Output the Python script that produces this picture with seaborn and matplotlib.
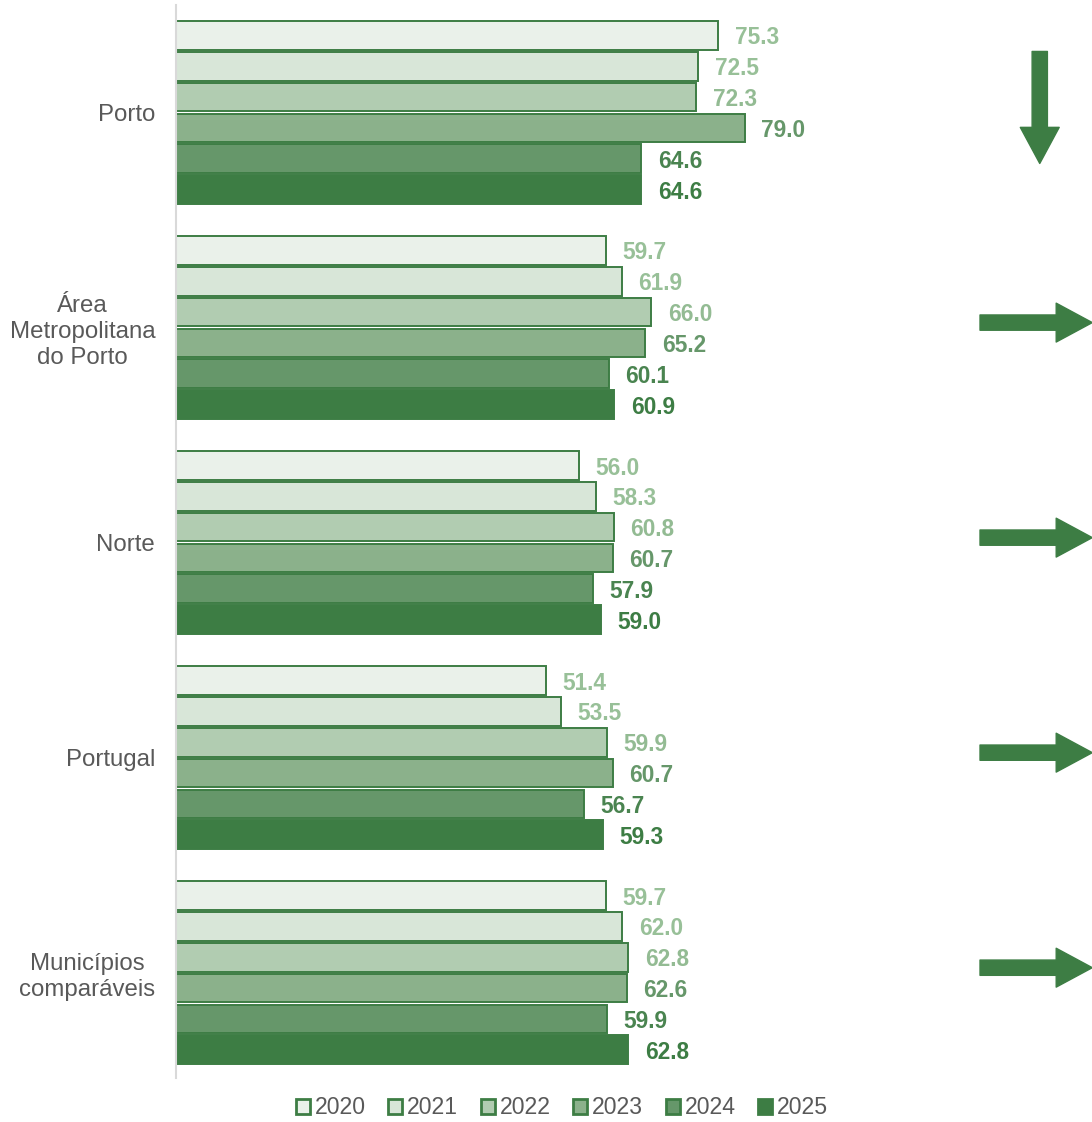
import matplotlib
matplotlib.use("Agg")
import matplotlib.pyplot as plt
from matplotlib.patches import Patch
import seaborn as sns
import pandas as pd

regions = ["Porto", "Área\nMetropolitana\ndo Porto", "Norte", "Portugal", "Municípios\ncomparáveis"]
years = ["2020", "2021", "2022", "2023", "2024", "2025"]
v2020 = [75.3, 59.7, 56.0, 51.4, 59.7]
v2021 = [72.5, 61.9, 58.3, 53.5, 62.0]
v2022 = [72.3, 66.0, 60.8, 59.9, 62.8]
v2023 = [79.0, 65.2, 60.7, 60.7, 62.6]
v2024 = [64.6, 60.1, 57.9, 56.7, 59.9]
v2025 = [64.6, 60.9, 59.0, 59.3, 62.8]
trend = ["down", "flat", "flat", "flat", "flat"]

fills = ["#EAF1EA", "#D8E6D8", "#B1CCB1", "#8BB18B", "#66976A", "#3D7D44"]
label_colors = ["#98C098", "#98C098", "#93BB93", "#66976A", "#4A8450", "#3D7D44"]
edge = "#3D7D44"
grey = "#595959"

values = [v2020, v2021, v2022, v2023, v2024, v2025]
rows = []
for y, vals in zip(years, values):
    for r, v in zip(regions, vals):
        rows.append({"region": r, "year": y, "value": v})
df = pd.DataFrame(rows)

sns.set_theme(style="white")
plt.rcParams["font.family"] = ["Liberation Sans", "DejaVu Sans"]

fig = plt.figure(figsize=(10.92, 11.22), dpi=100)
ax = fig.add_axes([176 / 1092, 1 - 1078 / 1122, 1 - 176 / 1092, (1078 - 5) / 1122])

sns.barplot(data=df, y="region", x="value", hue="year", orient="h",
            palette=fills, saturation=1, width=0.86, gap=0.07, edgecolor=edge, linewidth=1.4,
            order=regions, hue_order=years, ax=ax, legend=False)

for cont, c in zip(ax.containers, label_colors):
    texts = ax.bar_label(cont, fmt="%.1f", padding=12, color=c, fontsize=16.3, fontweight="bold")
    for t in texts:
        t.set_va("center_baseline")

ax.set_xlim(0, 916 / 7.198)
ax.set_ylim(4.49, -0.50)
ax.set_xlabel("")
ax.set_ylabel("")
ax.xaxis.set_visible(False)
for s in ["top", "right", "bottom"]:
    ax.spines[s].set_visible(False)
ax.spines["left"].set_color("#D9D9D9")
ax.spines["left"].set_linewidth(1.5)
ax.tick_params(axis="y", length=0, pad=15, labelsize=17.3, labelcolor=grey)
for t in ax.get_yticklabels():
    t.set_multialignment("center")
    t.set_linespacing(1.25)

# trend arrows
style = "simple,head_length=26,head_width=28,tail_width=11"
for i, tr in enumerate(trend):
    if tr == "down":
        ax.annotate("", xy=(120.0, i + 0.237), xytext=(120.0, i - 0.284),
                    arrowprops=dict(arrowstyle=style, color=edge, mutation_scale=1,
                                    shrinkA=0, shrinkB=0), annotation_clip=False)
    elif tr == "up":
        ax.annotate("", xy=(120.0, i - 0.284), xytext=(120.0, i + 0.237),
                    arrowprops=dict(arrowstyle=style, color=edge, mutation_scale=1,
                                    shrinkA=0, shrinkB=0), annotation_clip=False)
    else:
        ax.annotate("", xy=(127.3, i - 0.023), xytext=(111.7, i - 0.023),
                    arrowprops=dict(arrowstyle=style, color=edge, mutation_scale=1,
                                    shrinkA=0, shrinkB=0), annotation_clip=False)

handles = [Patch(facecolor=f, edgecolor=edge, linewidth=2) for f in fills]
fig.legend(handles, years, loc="center", bbox_to_anchor=(562 / 1092, 1 - 1108 / 1122),
           ncol=6, frameon=False, fontsize=16.6, labelcolor=grey,
           handlelength=0.6, handleheight=0.6, handletextpad=0.2, columnspacing=1.0)

fig.savefig("out.png", dpi=100)
